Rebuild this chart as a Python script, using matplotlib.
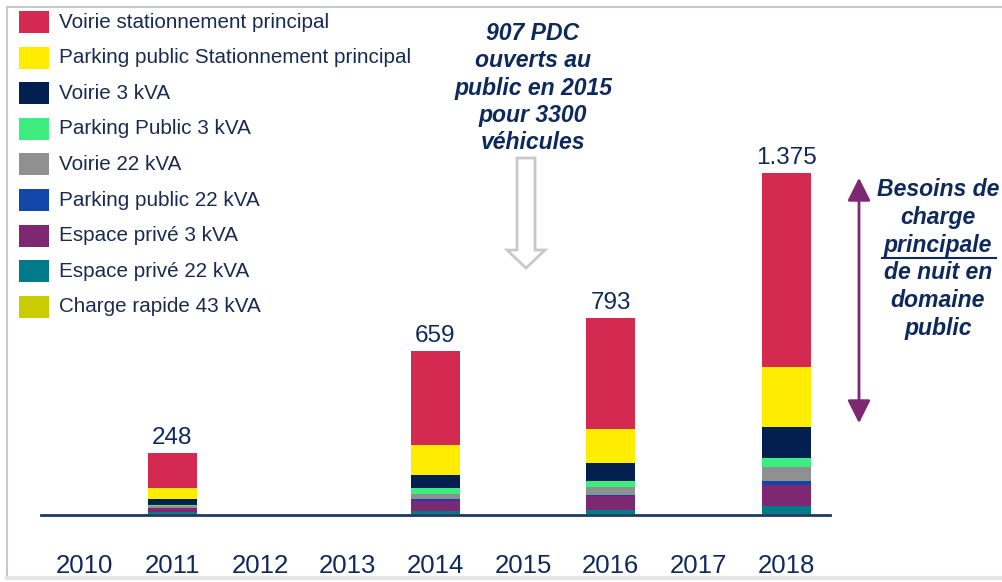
import matplotlib
matplotlib.use("Agg")
import matplotlib.pyplot as plt
import matplotlib.patches as mpatches
import matplotlib.transforms as mtransforms
from matplotlib.lines import Line2D

plt.rcParams["font.family"] = ["Liberation Sans", "DejaVu Sans"]

# Années et nombre de points de charge par type
annees = ["2010", "2011", "2012", "2013", "2014", "2015", "2016", "2017", "2018"]
voirie_principal = [0, 139, 0, 0, 378, 0, 448, 0, 782]
parking_principal = [0, 44, 0, 0, 121, 0, 137, 0, 241]
voirie_3 = [0, 24, 0, 0, 52, 0, 72, 0, 123]
parking_3 = [0, 5, 0, 0, 24, 0, 24, 0, 37]
voirie_22 = [0, 7, 0, 0, 20, 0, 32, 0, 56]
parking_22 = [0, 0, 0, 0, 8, 0, 3, 0, 16]
prive_3 = [0, 17, 0, 0, 40, 0, 56, 0, 83]
prive_22 = [0, 8, 0, 0, 12, 0, 16, 0, 32]
rapide_43 = [0, 4, 0, 0, 4, 0, 5, 0, 5]

# séries dans l'ordre de la légende (haut -> bas)
series = [
    ("Voirie stationnement principal", voirie_principal, "#d42a52"),
    ("Parking public Stationnement principal", parking_principal, "#ffed00"),
    ("Voirie 3 kVA", voirie_3, "#021f4f"),
    ("Parking Public 3 kVA", parking_3, "#3ded7f"),
    ("Voirie 22 kVA", voirie_22, "#909090"),
    ("Parking public 22 kVA", parking_22, "#1246a9"),
    ("Espace privé 3 kVA", prive_3, "#7d2870"),
    ("Espace privé 22 kVA", prive_22, "#017b8a"),
    ("Charge rapide 43 kVA", rapide_43, "#c8cc00"),
]

navy = "#0e2a5c"
W, H = 1003, 582
fig = plt.figure(figsize=(W / 100, H / 100), dpi=100)
# repère en pixels (origine en haut à gauche)
px = mtransforms.Affine2D().scale(1 / 100, -1 / 100).translate(0, H / 100) + fig.dpi_scale_trans

ax = fig.add_axes([40.6 / W, (H - 515) / H, (830 - 40.6) / W, 500 / H])
x = list(range(len(annees)))
bas = [0] * len(annees)
for nom, vals, coul in reversed(series):
    ax.bar(x, vals, width=0.56, bottom=bas, color=coul, linewidth=0)
    bas = [b + v for b, v in zip(bas, vals)]

for i, total in enumerate(bas):
    if total > 0:
        ax.annotate(f"{total:,}".replace(",", "."), (i, total), xytext=(0, 6.5),
                    textcoords="offset points", ha="center", va="baseline",
                    fontsize=17.5, color=navy)

ax.set_xlim(-0.5, len(annees) - 0.5)
ax.set_ylim(0, 2010)
ax.set_xticks(x)
ax.set_xticklabels(annees, fontsize=18.5, color=navy)
ax.tick_params(axis="x", length=0, pad=28)
ax.set_yticks([])
for s in ["top", "left", "right"]:
    ax.spines[s].set_visible(False)
ax.spines["bottom"].set_color("#1f3864")
ax.spines["bottom"].set_linewidth(2)

# légende
for k, (nom, vals, coul) in enumerate(series):
    yc = 22 + 35.6 * k
    fig.patches.append(mpatches.Rectangle((19, yc - 11), 30, 22, transform=px,
                                          color=coul, lw=0))
    fig.text(59, yc, nom, transform=px, va="center", ha="left",
             fontsize=14.9, color="#1a2a50")

# note 2015 et flèche creuse
fig.text(533, 88, "907 PDC\nouverts au\npublic en 2015\npour 3300\nvéhicules",
         transform=px, ha="center", va="center", fontsize=16.6,
         fontweight="bold", fontstyle="italic", color=navy, linespacing=1.23)
fleche = mpatches.Polygon([(517, 158), (535, 158), (535, 250), (545, 250),
                           (526, 268), (507, 250), (517, 250)], closed=True,
                          transform=px, facecolor="white", edgecolor="#c8c8c8",
                          lw=2)
fig.patches.append(fleche)

# flèche double violette et texte à droite
fig.patches.append(mpatches.FancyArrowPatch((859, 175), (859, 426), transform=px,
                                            arrowstyle="<|-|>,head_length=1.0,head_width=0.5",
                                            mutation_scale=14, color="#7d2870", lw=2))
lignes = ["Besoins de", "charge", "principale", "de nuit en", "domaine", "public"]
for k, t in enumerate(lignes):
    fig.text(938, 190 + 27.6 * k, t, transform=px, ha="center", va="center",
             fontsize=16.6, fontweight="bold", fontstyle="italic", color=navy)
fig.lines.append(Line2D([882, 996], [258, 258], transform=px, color=navy, lw=1.5))

# cadre
fig.lines.append(Line2D([7, 1001], [7, 7], transform=px, color="#c8c8c8", lw=1.5))
fig.lines.append(Line2D([7, 7], [7, 578], transform=px, color="#c8c8c8", lw=1.5))
fig.lines.append(Line2D([7, 1003], [578, 578], transform=px, color="#e4e4e4", lw=3))

fig.savefig("out.png", dpi=100)
